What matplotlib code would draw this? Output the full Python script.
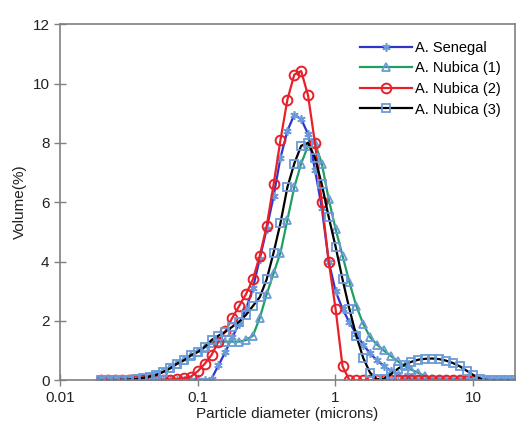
import matplotlib
matplotlib.use("Agg")
import matplotlib.pyplot as plt

plt.rcParams["font.family"] = ["Liberation Sans", "DejaVu Sans"]

# particle size bins (microns)
diam = [0.020, 0.0224, 0.0252, 0.0283, 0.0317, 0.0356, 0.0399, 0.0448, 0.0502, 0.0564,
        0.0632, 0.0710, 0.0796, 0.0893, 0.1002, 0.1125, 0.1262, 0.1416, 0.1589, 0.1783,
        0.2000, 0.2244, 0.2518, 0.2825, 0.3170, 0.3557, 0.3991, 0.4477, 0.5024, 0.5637,
        0.6325, 0.7096, 0.7962, 0.8934, 1.002, 1.125, 1.262, 1.416, 1.589, 1.783,
        2.000, 2.244, 2.518, 2.825, 3.170, 3.557, 3.991, 4.477, 5.024, 5.637,
        6.325, 7.096, 7.962, 8.934, 10.02, 11.25, 12.62, 14.16, 15.89, 17.83, 20.00]

senegal = [0, 0, 0, 0, 0, 0, 0, 0, 0, 0,
           0, 0, 0, 0, 0, 0, 0.05, 0.5, 0.95, 1.45,
           1.9, 2.4, 3.1, 4.1, 5.1, 6.2, 7.5, 8.4, 8.95, 8.8,
           8.3, 7.1, 5.8, 4.0, 3.0, 2.4, 1.95, 1.55, 1.2, 0.9,
           0.67, 0.48, 0.32, 0.2, 0.1, 0.04, 0, 0, 0, 0,
           0, 0, 0, 0, 0, 0, 0, 0, 0, 0, 0]

nubica1 = [0, 0, 0, 0.01, 0.02, 0.04, 0.07, 0.12, 0.18, 0.28,
           0.4, 0.55, 0.67, 0.82, 0.95, 1.1, 1.25, 1.3, 1.3, 1.3,
           1.3, 1.35, 1.5, 2.1, 2.9, 3.6, 4.3, 5.4, 6.5, 7.3,
           7.9, 8.0, 7.3, 6.1, 5.1, 4.2, 3.3, 2.5, 1.9, 1.45,
           1.2, 1.0, 0.82, 0.64, 0.48, 0.35, 0.25, 0.13, 0.04, 0,
           0, 0, 0, 0, 0, 0, 0, 0, 0, 0, 0]

nubica2 = [0, 0, 0, 0, 0, 0, 0, 0, 0, 0.01,
           0.02, 0.03, 0.06, 0.12, 0.3, 0.55, 0.85, 1.3, 1.65, 2.1,
           2.5, 2.9, 3.4, 4.2, 5.2, 6.6, 8.1, 9.45, 10.3, 10.42,
           9.6, 8.0, 6.0, 4.0, 2.4, 0.47, 0, 0, 0, 0,
           0, 0, 0, 0, 0, 0, 0, 0, 0, 0,
           0, 0, 0, 0, 0]

nubica3 = [0, 0, 0, 0.01, 0.02, 0.04, 0.07, 0.12, 0.18, 0.28,
           0.4, 0.56, 0.67, 0.84, 0.95, 1.12, 1.35, 1.5, 1.63, 1.8,
           1.97, 2.2, 2.5, 2.8, 3.4, 4.3, 5.3, 6.5, 7.3, 7.9,
           8.0, 7.5, 6.6, 5.5, 4.5, 3.4, 2.4, 1.5, 0.75, 0.25,
           0.03, 0.05, 0.2, 0.38, 0.52, 0.62, 0.69, 0.72, 0.73, 0.71,
           0.66, 0.58, 0.47, 0.32, 0.17, 0.05, 0, 0, 0, 0, 0]

MK = "#6a9bd8"
GRAY = "#808080"

fig = plt.figure(figsize=(5.2, 4.32), dpi=100)
ax = fig.add_axes([0.115, 0.120, 0.875, 0.824])

ax.plot(diam, senegal, color="#3034cc", lw=1.6, marker=(6, 2, 0), ms=6,
        mec=MK, mew=1.2, label="A. Senegal")
ax.plot(diam, nubica1, color="#1fa060", lw=1.6, marker="^", ms=6,
        mfc="none", mec=MK, mew=1.3, label="A. Nubica (1)")
ax.plot(diam[:len(nubica2)], nubica2, color="#e8202a", lw=1.6, marker="o", ms=7,
        mfc="none", mec="#e8202a", mew=1.4, label="A. Nubica (2)")
ax.plot(diam, nubica3, color="black", lw=1.6, marker="s", ms=5.5,
        mfc="none", mec=MK, mew=1.3, label="A. Nubica (3)")

ax.set_xscale("log")
ax.set_xlim(0.01, 20)
ax.set_ylim(0, 12)
ax.set_yticks(range(0, 13, 2))
ax.set_xticks([0.01, 0.1, 1, 10])
ax.set_xticklabels(["0.01", "0.1", "1", "10"])
ax.minorticks_off()

for s in ax.spines.values():
    s.set_color(GRAY)
    s.set_linewidth(1.2)
ax.tick_params(direction="inout", length=8, width=1, color=GRAY, labelsize=11,
               labelcolor="#222222")

ax.set_xlabel("Particle diameter (microns)", fontsize=11, color="#222222", labelpad=2)
ax.set_ylabel("Volume(%)", fontsize=11, color="#222222", labelpad=4)

ax.legend(loc="upper left", bbox_to_anchor=(0.63, 0.99), frameon=False, fontsize=10.5,
          handlelength=3.6, labelspacing=0.45, handletextpad=0.2)

fig.savefig("out.png", dpi=100)
